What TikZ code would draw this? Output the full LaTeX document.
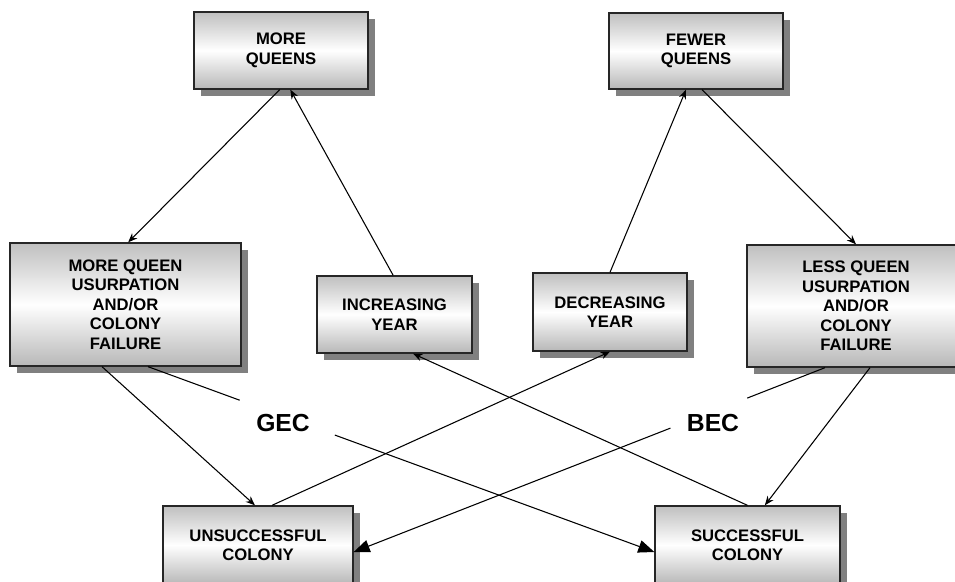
\documentclass[tikz,border=0pt]{standalone}
\usepackage{fontspec}
\setmainfont{Liberation Sans}
\usetikzlibrary{arrows.meta, shadows}

\begin{document}
\begin{tikzpicture}[x=0.75pt, y=-0.75pt, >={Stealth[length=7pt, width=5.5pt]}, line width=0.8pt,
        box/.style={draw=black!85, line width=1pt, top color=black!25, bottom color=black!28, middle color=white,
            align=center, inner sep=0pt, font=\fontsize{12.5}{14.6}\selectfont\bfseries,
            drop shadow={shadow xshift=5.25pt, shadow yshift=-5.25pt, fill=black!50, opacity=1}},
        ectext/.style={font=\fontsize{18.5}{20}\selectfont\bfseries},
        big/.style={-{Triangle[length=12pt, width=9.5pt]}}]
            \useasboundingbox (0,0) rectangle (955,581);

            \node[box, minimum width=130.5pt, minimum height=57.75pt] (mq) at (281,50.5) {MORE\\QUEENS};
            \node[box, minimum width=130.5pt, minimum height=57pt] (fq) at (696,51) {FEWER\\QUEENS};
            \node[box, minimum width=173.25pt, minimum height=92.25pt] (mu) at (125.5,304.5) {MORE QUEEN\\USURPATION\\AND/OR\\COLONY\\FAILURE};
            \node[box, minimum width=163.5pt, minimum height=91.5pt] (lu) at (856,306) {LESS QUEEN\\USURPATION\\AND/OR\\COLONY\\FAILURE};
            \node[box, minimum width=116.25pt, minimum height=57.75pt] (iy) at (394.5,314.5) {INCREASING\\YEAR};
            \node[box, minimum width=115.5pt, minimum height=58.5pt] (dy) at (610,312) {DECREASING\\YEAR};
            \node[box, minimum width=142.5pt, minimum height=58.5pt] (uc) at (258,545) {UNSUCCESSFUL\\COLONY};
            \node[box, minimum width=138.75pt, minimum height=58.5pt] (sc) at (747.5,545) {SUCCESSFUL\\COLONY};

            \node[ectext] (gec) at (283,423) {GEC};
            \node[ectext] (bec) at (713,423) {BEC};

            \draw[->] ([xshift=-1pt]mq.south) -- ([xshift=2pt]mu.north);
            \draw[->] ([xshift=-1pt]iy.north) -- ([xshift=7pt]mq.south);
            \draw[->] (dy.north) -- ([xshift=-7.5pt]fq.south);
            \draw[->] ([xshift=4.5pt]fq.south) -- (lu.north);
            \draw[->] ([xshift=-17.6pt]mu.south) -- ([xshift=-2.25pt]uc.north);
            \draw[->] ([xshift=10.5pt]uc.north) -- (dy.south);
            \draw[->] (sc.north) -- ([xshift=13.9pt]iy.south);
            \draw[->] ([xshift=10.5pt]lu.south) -- ([xshift=13pt]sc.north);

            % lines broken by the GEC / BEC labels
            \path ([xshift=16.9pt]mu.south) coordinate (g0) -- ([yshift=-5.25pt]sc.west) coordinate (g3)
                coordinate[pos=0.181] (g1) coordinate[pos=0.369] (g2);
            \draw (g0) -- (g1);
            \draw[big] (g2) -- (g3);

            \path ([xshift=-23.25pt]lu.south) coordinate (b0) -- ([yshift=-5.25pt]uc.east) coordinate (b3)
                coordinate[pos=0.165] (b1) coordinate[pos=0.328] (b2);
            \draw (b0) -- (b1);
            \draw[big] (b2) -- (b3);
        \end{tikzpicture}
\end{document}
